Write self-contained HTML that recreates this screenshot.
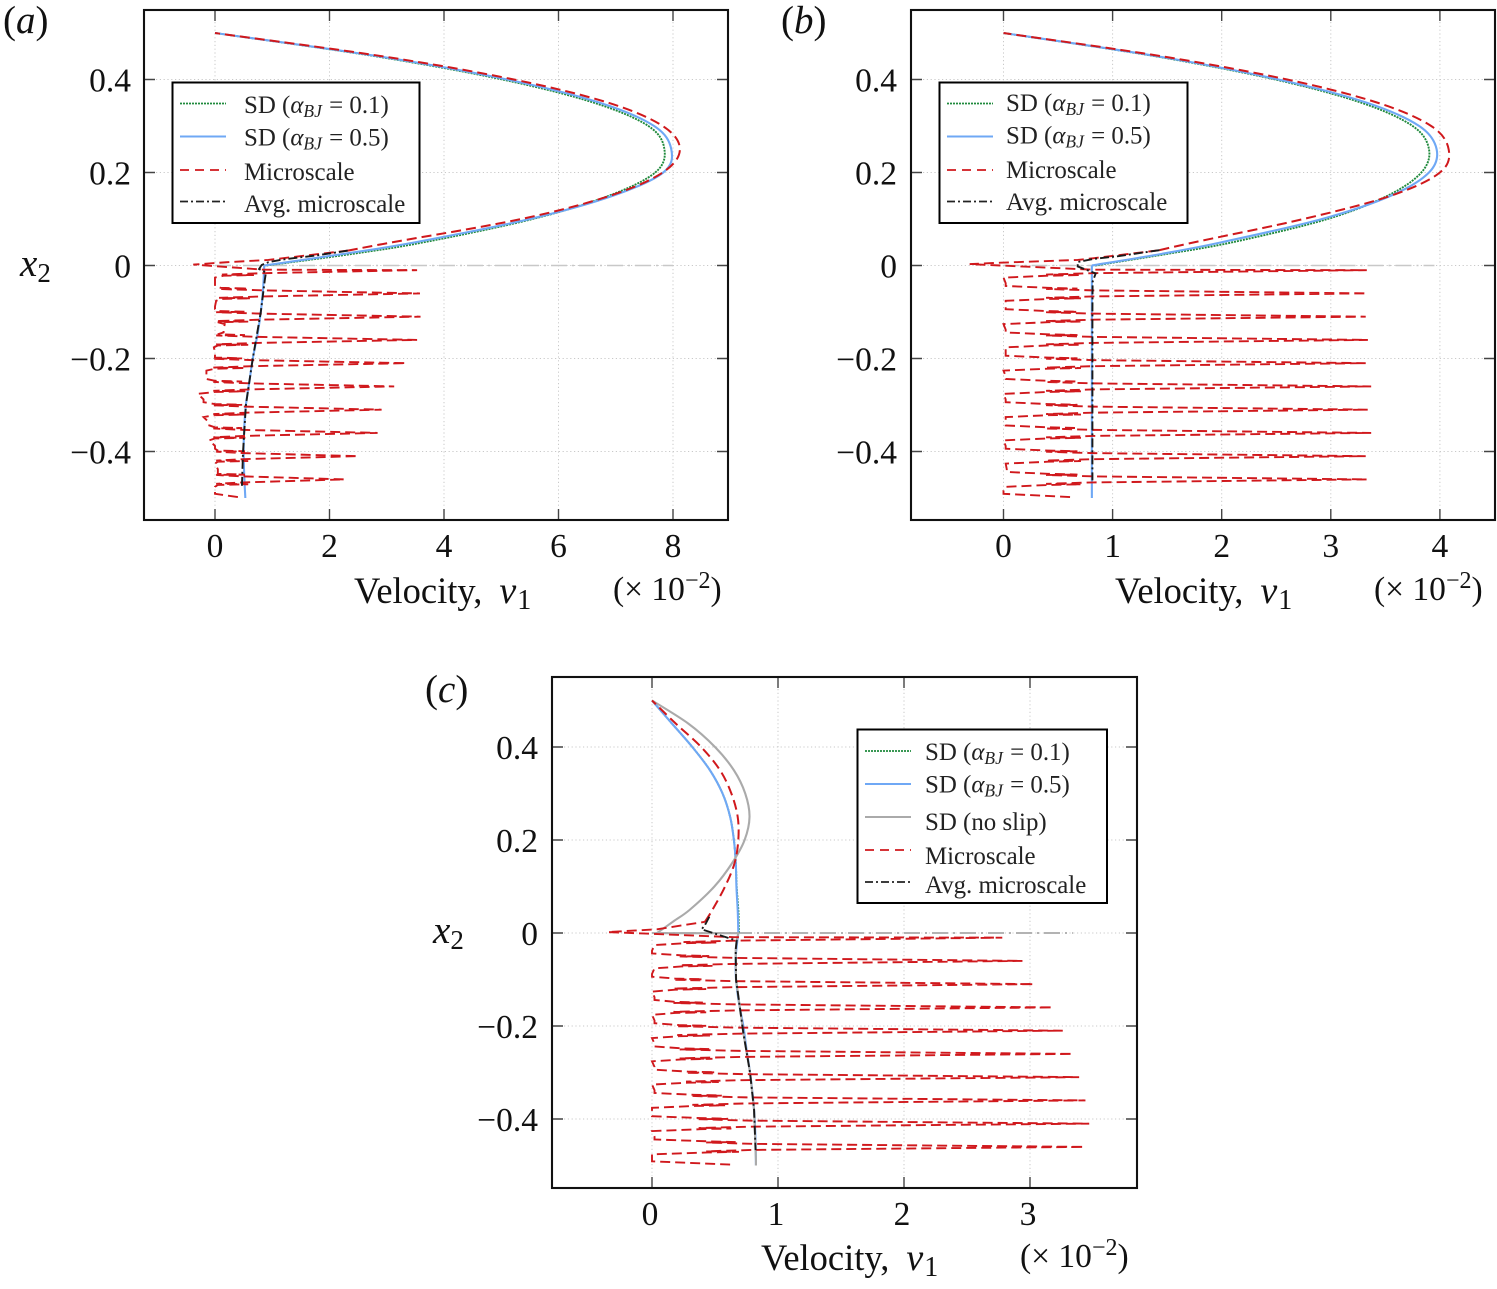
<!DOCTYPE html>
<html lang="en">
<head>
<meta charset="utf-8">
<title>Velocity profiles</title>
<style>
html,body{margin:0;padding:0;background:#fff;}
svg{display:block;font-family:"Liberation Serif",serif;fill:#111;}
.tick{font-size:33.5px;}
.axl{font-size:36.5px;}
.scale{font-size:33.5px;}
.leg{font-size:24.9px;fill:#222;}
.it{font-style:italic;}
</style>
</head>
<body>
<svg id="fig" xmlns="http://www.w3.org/2000/svg" width="1497" height="1289" viewBox="0 0 1497 1289">
<g id="panel-a"></g>
<g id="panel-b"></g>
<g id="panel-c"></g>

<text x="3" y="33" font-size="39">(<tspan class="it">a</tspan>)</text>
<text x="781" y="33" font-size="39">(<tspan class="it">b</tspan>)</text>
<text x="425" y="702" font-size="39">(<tspan class="it">c</tspan>)</text>

<text x="20" y="276" font-size="39"><tspan class="it">x</tspan><tspan font-size="27" dy="6">2</tspan></text>
<text x="433" y="943" font-size="39"><tspan class="it">x</tspan><tspan font-size="27" dy="6">2</tspan></text>

<text class="axl" x="354" y="603">Velocity,<tspan class="it" font-size="38" dx="17">v</tspan><tspan font-size="28" dy="6" dx="1">1</tspan></text>
<text class="axl" x="1115" y="603">Velocity,<tspan class="it" font-size="38" dx="17">v</tspan><tspan font-size="28" dy="6" dx="1">1</tspan></text>
<text class="axl" x="761" y="1270">Velocity,<tspan class="it" font-size="38" dx="17">v</tspan><tspan font-size="28" dy="6" dx="1">1</tspan></text>

<text class="scale" x="613" y="600">(× 10<tspan font-size="24" dy="-12">−2</tspan><tspan dy="12">)</tspan></text>
<text class="scale" x="1374" y="600">(× 10<tspan font-size="24" dy="-12">−2</tspan><tspan dy="12">)</tspan></text>
<text class="scale" x="1020" y="1267">(× 10<tspan font-size="24" dy="-12">−2</tspan><tspan dy="12">)</tspan></text>

<!-- Legend a -->
<g>
<rect x="172.5" y="82.5" width="247" height="140.5" fill="#fff" stroke="#000" stroke-width="2"/>
<line x1="180" x2="226" y1="103.5" y2="103.5" stroke="#1f8a3c" stroke-width="1.7" stroke-dasharray="2 1"/>
<text class="leg" x="244" y="113">SD (<tspan class="it">α</tspan><tspan class="it" font-size="17.5" dy="4">BJ</tspan><tspan dy="-4" dx="1"> = 0.1)</tspan></text>
<line x1="180" x2="226" y1="136.5" y2="136.5" stroke="#6fa8f5" stroke-width="2"/>
<text class="leg" x="244" y="145.5">SD (<tspan class="it">α</tspan><tspan class="it" font-size="17.5" dy="4">BJ</tspan><tspan dy="-4" dx="1"> = 0.5)</tspan></text>
<line x1="180" x2="226" y1="170" y2="170" stroke="#d0181c" stroke-width="1.7" stroke-dasharray="9 6"/>
<text class="leg" x="244" y="180">Microscale</text>
<line x1="180" x2="226" y1="201.5" y2="201.5" stroke="#222" stroke-width="1.7" stroke-dasharray="8 3 2 3"/>
<text class="leg" x="244" y="212">Avg. microscale</text>
</g>

<!-- Legend b -->
<g>
<rect x="939.5" y="82.5" width="248" height="140.5" fill="#fff" stroke="#000" stroke-width="2"/>
<line x1="947" x2="993" y1="103.5" y2="103.5" stroke="#1f8a3c" stroke-width="1.7" stroke-dasharray="2 1"/>
<text class="leg" x="1006" y="111">SD (<tspan class="it">α</tspan><tspan class="it" font-size="17.5" dy="4">BJ</tspan><tspan dy="-4" dx="1"> = 0.1)</tspan></text>
<line x1="947" x2="993" y1="136.5" y2="136.5" stroke="#6fa8f5" stroke-width="2"/>
<text class="leg" x="1006" y="143.5">SD (<tspan class="it">α</tspan><tspan class="it" font-size="17.5" dy="4">BJ</tspan><tspan dy="-4" dx="1"> = 0.5)</tspan></text>
<line x1="947" x2="993" y1="170" y2="170" stroke="#d0181c" stroke-width="1.7" stroke-dasharray="9 6"/>
<text class="leg" x="1006" y="178">Microscale</text>
<line x1="947" x2="993" y1="201.5" y2="201.5" stroke="#222" stroke-width="1.7" stroke-dasharray="8 3 2 3"/>
<text class="leg" x="1006" y="210">Avg. microscale</text>
</g>

<!-- Legend c -->
<g>
<rect x="857.5" y="729.5" width="249.5" height="173.5" fill="#fff" stroke="#000" stroke-width="2"/>
<line x1="865" x2="911" y1="751" y2="751" stroke="#1f8a3c" stroke-width="1.7" stroke-dasharray="2 1"/>
<text class="leg" x="925" y="760">SD (<tspan class="it">α</tspan><tspan class="it" font-size="17.5" dy="4">BJ</tspan><tspan dy="-4" dx="1"> = 0.1)</tspan></text>
<line x1="865" x2="911" y1="784" y2="784" stroke="#6fa8f5" stroke-width="2"/>
<text class="leg" x="925" y="792.5">SD (<tspan class="it">α</tspan><tspan class="it" font-size="17.5" dy="4">BJ</tspan><tspan dy="-4" dx="1"> = 0.5)</tspan></text>
<line x1="865" x2="911" y1="817" y2="817" stroke="#aaa" stroke-width="2"/>
<text class="leg" x="925" y="830">SD (no slip)</text>
<line x1="865" x2="911" y1="850" y2="850" stroke="#d0181c" stroke-width="1.7" stroke-dasharray="9 6"/>
<text class="leg" x="925" y="864">Microscale</text>
<line x1="865" x2="911" y1="882" y2="882" stroke="#222" stroke-width="1.7" stroke-dasharray="8 3 2 3"/>
<text class="leg" x="925" y="893">Avg. microscale</text>
</g>
</svg>

<script>
// ---- shared tick labels and sample heights ----
const yTickValues = [0.4, 0.2, 0, -0.2, -0.4];
const yTickLabels = ['0.4', '0.2', '0', '\u22120.2', '\u22120.4'];
const aXTicks = [0, 2, 4, 6, 8];
const bXTicks = [0, 1, 2, 3, 4];
const cXTicks = [0, 1, 2, 3];
const channelX2 = [0, 0.025, 0.05, 0.1, 0.15, 0.2, 0.25, 0.3, 0.35, 0.4, 0.45, 0.5];
const microChannelX2 = [0.05, 0.1, 0.15, 0.2, 0.25, 0.3, 0.35, 0.4, 0.45, 0.5];
const porousX2 = [0, -0.05, -0.1, -0.15, -0.2, -0.25, -0.3, -0.35, -0.4, -0.45, -0.5];
const rowX2 = [-0.46, -0.41, -0.36, -0.31, -0.26, -0.21, -0.16, -0.11, -0.06, -0.01];
const tailX2 = [-0.498, -0.491, -0.484];

// ---- panel (a) ----
const aGreenChannel = [0.9, 2.4, 3.65, 5.55, 6.88, 7.69, 7.85, 7.57, 6.62, 5.02, 2.8, 0];
const aBlueChannel = [0.86, 2.25, 3.5, 5.5, 6.95, 7.83, 7.97, 7.67, 6.72, 5.1, 2.85, 0];
const aBluePorous = [0.86, 0.84, 0.8, 0.74, 0.66, 0.6, 0.54, 0.51, 0.5, 0.51, 0.53];
const aMicroChannel = [3.1, 5.35, 6.9, 7.82, 8.12, 7.82, 6.87, 5.22, 2.92, 0];
const aInterfaceV = [-0.38, 0.2, 0.93, 2.32];
const aInterfaceX2 = [0.002, 0.007, 0.012, 0.032];
const aTipV = [2.26, 2.5, 2.84, 2.91, 3.13, 3.34, 3.53, 3.59, 3.58, 3.53];
const aLowLeftV = [0, 0, -0.1, -0.2, -0.3, -0.15, -0.02, 0.17, 0.02, 0];
const aUpLeftV = [0.05, 0, -0.1, -0.2, -0.15, 0, 0.15, 0, 0, 0];
const aFoldV = [0.3, 0.3, 0.25, 0.25, 0.25, 0.25, 0.3, 0.3, 0.35, 0.4];
const aKneeV = [0.5, 0.5, 0.5, 0.55, 0.6, 0.65, 0.75, 0.8, 0.85, 0.85];
const aTailV = [0.4, 0, 0];
const aAvgV = [2.32, 1.83, 1.19, 0.93, 0.815, 0.77, 0.89, 0.87, 0.8, 0.66, 0.54, 0.49, 0.47];
const aAvgX2 = [0.032, 0.0226, 0.013, 0.007, 0.001, -0.0075, -0.015, -0.031, -0.1, -0.2, -0.3, -0.4, -0.475];

// ---- panel (b) ----
const bGreenChannel = [0.84, 1.5, 2.1, 2.97, 3.52, 3.83, 3.9, 3.75, 3.28, 2.49, 1.39, 0];
const bBlueChannel = [0.81, 1.45, 2.0, 2.92, 3.55, 3.9, 3.97, 3.81, 3.33, 2.52, 1.41, 0];
const bBluePorous = [0.81, 0.81, 0.81, 0.81, 0.81, 0.81, 0.81, 0.81, 0.81, 0.81, 0.81];
const bMicroChannel = [1.75, 2.75, 3.55, 4.0, 4.08, 3.92, 3.43, 2.6, 1.45, 0];
const bInterfaceV = [-0.31, -0.03, 0.68, 0.82, 1.43];
const bInterfaceX2 = [0.003, 0.006, 0.012, 0.0155, 0.033];
const bTipV = [3.33, 3.32, 3.37, 3.34, 3.37, 3.32, 3.34, 3.32, 3.33, 3.33];
const bLowLeftV = [0.02, 0.02, 0, 0.02, 0, 0, 0.02, 0, 0.02, 0];
const bUpLeftV = [0.03, 0.02, 0.02, 0.02, 0.02, 0.02, 0.02, 0.02, 0.02, 0.02];
const bFoldV = [0.55, 0.55, 0.55, 0.55, 0.55, 0.55, 0.55, 0.55, 0.55, 0.55];
const bKneeV = [0.82, 0.82, 0.82, 0.82, 0.82, 0.82, 0.82, 0.82, 0.82, 0.82];
const bTailV = [0.61, 0, 0];
const bAvgV = [1.43, 1.05, 0.82, 0.68, 0.68, 0.81, 0.845, 0.817, 0.815, 0.815, 0.815, 0.815];
const bAvgX2 = [0.033, 0.02, 0.014, 0.0075, -0.002, -0.014, -0.017, -0.035, -0.1, -0.25, -0.4, -0.462];

// ---- panel (c) ----
const cGreenChannel = [0.69, 0.688, 0.685, 0.672, 0.665, 0.65, 0.62, 0.56, 0.46, 0.32, 0.16, 0];
const cBlueChannel = [0.685, 0.683, 0.68, 0.67, 0.665, 0.65, 0.62, 0.56, 0.46, 0.32, 0.16, 0];
const cGreyChannel = [0.04, 0.17, 0.3, 0.495, 0.635, 0.735, 0.774, 0.74, 0.65, 0.5, 0.29, 0];
const cBluePorous = [0.685, 0.665, 0.667, 0.69, 0.725, 0.75, 0.778, 0.8, 0.815, 0.822, 0.825];
const cGreyPorousV = [0.04, 0.685, 0.672, 0.664, 0.667, 0.725, 0.778, 0.81, 0.825, 0.825];
const cGreyPorousX2 = [-0.0005, -0.0005, -0.0165, -0.037, -0.1, -0.215, -0.3, -0.38, -0.488, -0.5];
const cMicroChannel = [0.48, 0.58, 0.655, 0.685, 0.68, 0.63, 0.54, 0.39, 0.19, 0];
const cInterfaceV = [-0.35, 0.04, 0.42];
const cInterfaceX2 = [0.002, 0.008, 0.024];
const cTipV = [3.43, 3.47, 3.44, 3.39, 3.34, 3.26, 3.18, 3.03, 2.94, 2.78];
const cLowLeftV = [0, 0, 0, 0, 0, 0, 0, 0, 0.02, 0.02];
const cUpLeftV = [0.02, 0, 0.02, 0.02, 0.02, 0.02, 0.02, 0, 0, 0];
const cFoldV = [0.56, 0.5, 0.45, 0.4, 0.35, 0.33, 0.3, 0.3, 0.35, 0.38];
const cKneeV = [0.8, 0.78, 0.75, 0.72, 0.7, 0.68, 0.66, 0.65, 0.65, 0.65];
const cTailV = [0.62, 0, 0];
const cAvgV = [0.455, 0.42, 0.394, 0.672, 0.664, 0.667, 0.725, 0.778, 0.81, 0.822];
const cAvgX2 = [0.035, 0.017, 0.008, -0.0165, -0.037, -0.1, -0.215, -0.3, -0.38, -0.467];

const NS = 'http://www.w3.org/2000/svg';
const GREEN = '#1f8a3c', BLUE = '#6fa8f5', GREY = '#aaaaaa', RED = '#d0181c', BLACK = '#1a1a1a';

function pick(xs, ys) { return xs.map((x, i) => [x, ys[i]]); }

function linePath(points, sx, sy) {
  return points.map((p, i) => (i ? 'L' : 'M') + sx(p[0]).toFixed(2) + ' ' + sy(p[1]).toFixed(2)).join('');
}

function smoothPath(points, sx, sy) {
  const q = points.map(p => [sx(p[0]), sy(p[1])]);
  let d = 'M' + q[0][0].toFixed(2) + ' ' + q[0][1].toFixed(2);
  for (let i = 0; i < q.length - 1; i++) {
    const p0 = q[Math.max(i - 1, 0)], p1 = q[i], p2 = q[i + 1], p3 = q[Math.min(i + 2, q.length - 1)];
    const c1 = [p1[0] + (p2[0] - p0[0]) / 6, p1[1] + (p2[1] - p0[1]) / 6];
    const c2 = [p2[0] - (p3[0] - p1[0]) / 6, p2[1] - (p3[1] - p1[1]) / 6];
    d += 'C' + c1[0].toFixed(2) + ' ' + c1[1].toFixed(2) + ' ' + c2[0].toFixed(2) + ' ' + c2[1].toFixed(2) + ' ' + p2[0].toFixed(2) + ' ' + p2[1].toFixed(2);
  }
  return d;
}

// A microscale trace through the porous rows, bottom to top, ending at the interface.
function microPoints(cfg) {
  const pts = [];
  tailX2.forEach((x, i) => pts.push([cfg.tail[i], x]));
  rowX2.forEach((t, i) => {
    const f = cfg.fold[i], s = cfg.foldSpan, k = cfg.knee[i], last = i === rowX2.length - 1;
    pts.push([cfg.low[i], t - 0.016], [f - s * 0.9, t - 0.012], [f + s, t - 0.0105], [f - s, t - 0.0095], [k, t - 0.0065], [cfg.tip[i], t], [k, t + 0.0045 + (last ? -0.0035 : 0.002)]);
    if (!last) {
      pts.push([f - s, t + 0.0095], [f + s * 0.8, t + 0.0105], [f - s * 0.9, t + 0.012], [cfg.up[i], t + 0.016], [cfg.up[i], t + 0.022]);
    }
  });
  cfg.interV.forEach((v, i) => pts.push([v, cfg.interX[i]]));
  return pts;
}

function addPath(parent, d, stroke, width, dash, name) {
  const el = document.createElementNS(NS, 'path');
  el.setAttribute('d', d);
  el.setAttribute('fill', 'none');
  el.setAttribute('stroke', stroke);
  el.setAttribute('stroke-width', width);
  if (dash) el.setAttribute('stroke-dasharray', dash);
  
  
  parent.appendChild(el);
  return el;
}

function addLabel(parent, x, y, anchor, str, name) {
  const el = document.createElementNS(NS, 'text');
  el.setAttribute('x', x);
  el.setAttribute('y', y);
  el.setAttribute('text-anchor', anchor);
  el.setAttribute('class', 'tick');
  el.textContent = str;
  
  
  parent.appendChild(el);
}

function drawPanel(cfg) {
  const g = document.getElementById(cfg.id);
  const L = cfg.box[0], T = cfg.box[1], R = cfg.box[2], B = cfg.box[3];
  const sx = v => cfg.x0 + v * cfg.xUnit;
  const sy = v => cfg.y0 - v * 465;

  const bg = document.createElementNS(NS, 'rect');
  bg.setAttribute('x', L);
  bg.setAttribute('y', T);
  bg.setAttribute('width', R - L);
  bg.setAttribute('height', B - T);
  bg.setAttribute('fill', '#fff');
  
  
  g.appendChild(bg);

  // grid and ticks
  cfg.xTicks.forEach(v => {
    const x = sx(v);
    addPath(g, 'M' + x + ' ' + (T + 12) + 'L' + x + ' ' + (B - 12), '#c9c9c9', 1, '1.2 2.6', 'x-grid-line');
    addPath(g, 'M' + x + ' ' + T + 'L' + x + ' ' + (T + 11) + 'M' + x + ' ' + B + 'L' + x + ' ' + (B - 11), '#444', 1.4, null, 'x-tick');
    addLabel(g, x + cfg.labelShift, B + 37, 'middle', String(v), 'x-tick-label');
  });
  yTickValues.forEach((v, i) => {
    const y = sy(v);
    addPath(g, 'M' + (L + 12) + ' ' + y + 'L' + (R - 12) + ' ' + y, '#c9c9c9', 1, '1.2 2.6', 'y-grid-line');
    addPath(g, 'M' + L + ' ' + y + 'L' + (L + 11) + ' ' + y + 'M' + R + ' ' + y + 'L' + (R - 11) + ' ' + y, '#444', 1.5, null, 'y-tick');
    addLabel(g, L - cfg.yLabelGap, y + 12, 'end', yTickLabels[i], 'y-tick-label');
  });

  // interface line
  addPath(g, linePath([[0, 0], [cfg.interfaceEnd, 0]], sx, sy), cfg.interfaceColor, 1.4, '16 5 2 5', 'interface-line');

  // series
  addPath(g, smoothPath(pick(cfg.green, channelX2), sx, sy), GREEN, 1.9, '2 1', 'sd-alpha-01-channel');
  addPath(g, smoothPath(pick(cfg.blue, channelX2), sx, sy), BLUE, 2.1, null, 'sd-alpha-05-channel');
  addPath(g, smoothPath(pick(cfg.bluePorous, porousX2), sx, sy), BLUE, 2.1, null, 'sd-alpha-05-porous');
  if (cfg.grey) {
    addPath(g, smoothPath(pick(cfg.grey, channelX2), sx, sy), GREY, 2.1, null, 'sd-no-slip-channel');
    addPath(g, linePath(pick(cfg.greyPorousV, cfg.greyPorousX), sx, sy), GREY, 2.1, null, 'sd-no-slip-porous');
  }
  const pore = microPoints(cfg);
  addPath(g, linePath(pore, sx, sy), RED, 1.9, '10 5', 'microscale-porous');
  const lastI = cfg.interV.length - 1;
  const chan = [[cfg.interV[lastI], cfg.interX[lastI]]].concat(pick(cfg.micro, microChannelX2));
  addPath(g, smoothPath(chan, sx, sy), RED, 2, '10 5', 'microscale-channel');
  addPath(g, linePath(pick(cfg.avgV, cfg.avgX), sx, sy), BLACK, 1.9, '9 3 2 3', 'average-microscale');

  // frame
  const frame = document.createElementNS(NS, 'rect');
  frame.setAttribute('x', L);
  frame.setAttribute('y', T);
  frame.setAttribute('width', R - L);
  frame.setAttribute('height', B - T);
  frame.setAttribute('fill', 'none');
  frame.setAttribute('stroke', '#111');
  frame.setAttribute('stroke-width', 2.1);
  
  
  g.appendChild(frame);
}

drawPanel({
  id: 'panel-a', box: [144, 10, 728, 520], x0: 215, xUnit: 57.25, y0: 265.5, xTicks: aXTicks, labelShift: 0, yLabelGap: 13,
  green: aGreenChannel, blue: aBlueChannel, bluePorous: aBluePorous, micro: aMicroChannel,
  interV: aInterfaceV, interX: aInterfaceX2, tip: aTipV, low: aLowLeftV, up: aUpLeftV,
  fold: aFoldV, foldSpan: 0.28, knee: aKneeV, tail: aTailV, avgV: aAvgV, avgX: aAvgX2,
  interfaceEnd: 8, interfaceColor: '#c8c8c8'
});
drawPanel({
  id: 'panel-b', box: [911, 10, 1495, 520], x0: 1003.5, xUnit: 109.1, y0: 265.5, xTicks: bXTicks, labelShift: 0, yLabelGap: 14,
  green: bGreenChannel, blue: bBlueChannel, bluePorous: bBluePorous, micro: bMicroChannel,
  interV: bInterfaceV, interX: bInterfaceX2, tip: bTipV, low: bLowLeftV, up: bUpLeftV,
  fold: bFoldV, foldSpan: 0.16, knee: bKneeV, tail: bTailV, avgV: bAvgV, avgX: bAvgX2,
  interfaceEnd: 3.95, interfaceColor: '#c8c8c8'
});
drawPanel({
  id: 'panel-c', box: [552, 677, 1137, 1188], x0: 652, xUnit: 126, y0: 933, xTicks: cXTicks, labelShift: -2, yLabelGap: 14,
  green: cGreenChannel, blue: cBlueChannel, bluePorous: cBluePorous, micro: cMicroChannel,
  grey: cGreyChannel, greyPorousV: cGreyPorousV, greyPorousX: cGreyPorousX2,
  interV: cInterfaceV, interX: cInterfaceX2, tip: cTipV, low: cLowLeftV, up: cUpLeftV,
  fold: cFoldV, foldSpan: 0.13, knee: cKneeV, tail: cTailV, avgV: cAvgV, avgX: cAvgX2,
  interfaceEnd: 3.34, interfaceColor: '#9a9a9a'
});
</script>
</body>
</html>
